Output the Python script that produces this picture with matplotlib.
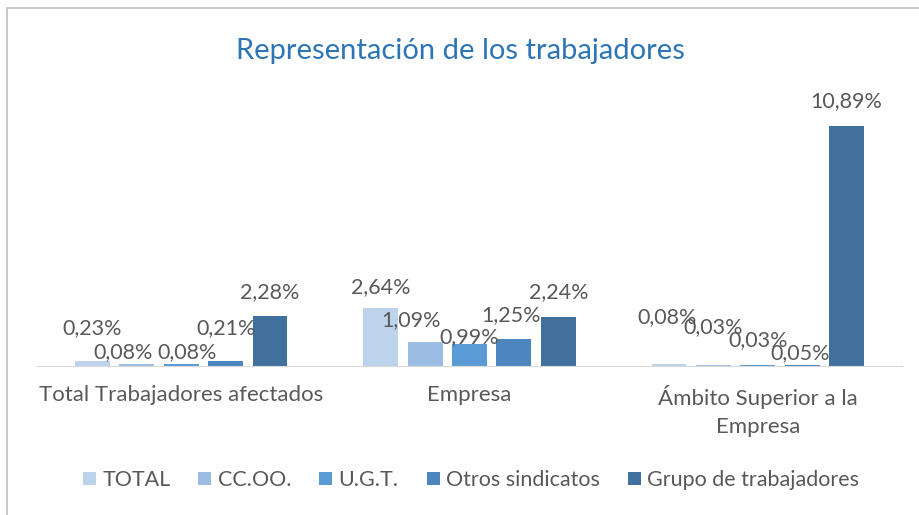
import numpy as np
import matplotlib.pyplot as plt
from matplotlib.patches import Rectangle

plt.rcParams['font.family'] = ['Lato', 'DejaVu Sans']

# Datos
categorias = ['Total Trabajadores afectados', 'Empresa', 'Ámbito Superior a la\nEmpresa']
series = ['TOTAL', 'CC.OO.', 'U.G.T.', 'Otros sindicatos', 'Grupo de trabajadores']
total = [0.23, 2.64, 0.08]
ccoo = [0.08, 1.09, 0.03]
ugt = [0.08, 0.99, 0.03]
otros = [0.21, 1.25, 0.05]
grupo = [2.28, 2.24, 10.89]

colores = ['#BDD3EC', '#9CBDE3', '#5A9BD5', '#4D86BF', '#41709C']
texto = '#595959'

# desplazamiento de etiquetas (pixeles) por serie y categoria, como en Excel
desp = [
    [(0, 33), (0, 21), (-2, 47)],
    [(-14, 12), (-14, 22), (0, 38)],
    [(6, 12), (0, 7), (0, 25)],
    [(0, 33), (-3, 23), (-2, 12)],
    [(0, 24), (0, 25), (0, 25)],
]

fig = plt.figure(figsize=(9.2, 5.15), dpi=100)
ax = fig.add_axes([37 / 920, 149 / 515, 865 / 920, 264 / 515])

x = np.arange(len(categorias))
paso = 0.154
ancho = 0.121
valores = [total, ccoo, ugt, otros, grupo]
for i, (nombre, vals) in enumerate(zip(series, valores)):
    pos = x + (i - 2) * paso
    barras = ax.bar(pos, vals, ancho, color=colores[i], label=nombre, zorder=2)
    for j, b in enumerate(barras):
        etiqueta = f'{vals[j]:.2f}%'.replace('.', ',')
        ax.annotate(etiqueta, (b.get_x() + b.get_width() / 2, b.get_height()),
                    xytext=desp[i][j], textcoords='offset pixels',
                    ha='center', va='center', fontsize=15.5, color=texto)

ax.set_xlim(-0.5, 2.5)
ax.set_ylim(0, 12)
ax.set_xticks(x)
ax.set_xticklabels(categorias, fontsize=16, color=texto, linespacing=1.45, va='top')
ax.tick_params(axis='x', length=0, pad=14)
ax.set_yticks([])
for s in ['top', 'right', 'left']:
    ax.spines[s].set_visible(False)
ax.spines['bottom'].set_color('#D9D9D9')

fig.text(0.5, 1 - 51 / 515, 'Representación de los trabajadores', ha='center', va='center',
         fontsize=21, color='#2E75B6')

fig.legend(loc='center', bbox_to_anchor=(0.512, 1 - 480 / 515), ncol=5, frameon=False,
           fontsize=15.5, handlelength=0.6, handleheight=0.6, handletextpad=0.3,
           columnspacing=1.3, labelcolor=texto)

# borde del area de grafico
fig.patches.append(Rectangle((7 / 920, -0.1), 1.2, 1 - 8 / 515 + 0.1, transform=fig.transFigure,
                             fill=False, edgecolor='#BFBFBF', linewidth=1.2))

plt.savefig('out.png', dpi=100)
